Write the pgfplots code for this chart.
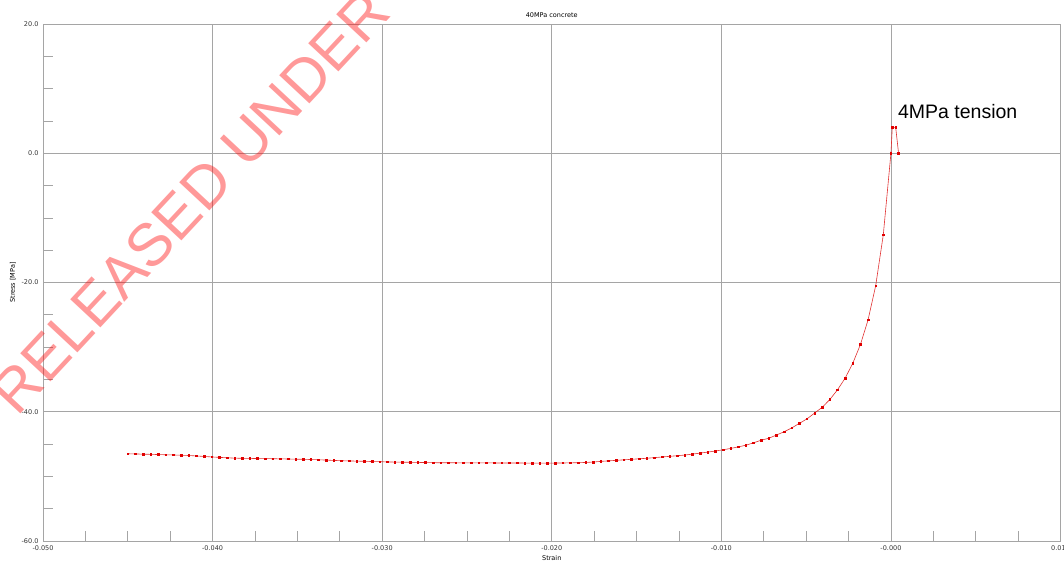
\documentclass[border=0pt]{standalone}
\usepackage{pgfplots}
\pgfplotsset{compat=1.18}
\usepackage{fontspec}
\setmainfont{DejaVu Sans}
\newfontfamily\arialfont{Liberation Sans}
\definecolor{gridgray}{RGB}{165,165,165}
\definecolor{curvered}{RGB}{225,50,50}
\definecolor{markred}{RGB}{225,0,0}
\begin{document}
\begin{tikzpicture}[x=1pt,y=1pt]
\useasboundingbox (0,0) rectangle (1064,567);
\begin{axis}[
  at={(43pt,26pt)}, anchor=south west, scale only axis,
  width=1017.6pt, height=517pt,
  xmin=-0.05, xmax=0.01, ymin=-60, ymax=20,
  xtick={-0.05,-0.04,-0.03,-0.02,-0.01,0,0.01},
  xticklabels={-0.050,-0.040,-0.030,-0.020,-0.010,-0.000,0.010},
  ytick={-60,-40,-20,0,20},
  yticklabels={-60.0,-40.0,-20.0,0.0,20.0},
  minor x tick num=3, minor y tick num=3,
  grid=major,
  major grid style={color=gridgray, line width=0.7pt},
  axis line style={gridgray, line width=0.7pt},
  tick align=inside, xtick pos=bottom, ytick pos=left,
  major tick length=0pt, minor tick length=10pt,
  minor tick style={gridgray, line width=0.7pt},
  scaled x ticks=false, scaled y ticks=false,
  ticklabel style={font=\fontsize{6.5}{7}\selectfont, text=black!80},
  xticklabel style={yshift=-1pt},
  yticklabel style={xshift=-1pt},
  title={40MPa concrete},
  title style={font=\fontsize{6.5}{7}\selectfont, yshift=-3pt},
  xlabel={Strain},
  xlabel style={font=\fontsize{6.5}{7}\selectfont, yshift=2pt},
  ylabel={Stress [MPa]},
  ylabel style={font=\fontsize{6.5}{7}\selectfont, yshift=-1pt},
  clip=false,
]
\addplot[curvered, line width=0.6pt, mark=square*, mark size=0.8pt,
  mark options={markred, solid}] coordinates {
(-0.04500,-46.50) (-0.04455,-46.53) (-0.04410,-46.56) (-0.04365,-46.59)
(-0.04320,-46.62) (-0.04275,-46.66) (-0.04230,-46.69) (-0.04185,-46.73)
(-0.04140,-46.77) (-0.04095,-46.84) (-0.04050,-46.92) (-0.04005,-46.99)
(-0.03960,-47.06) (-0.03915,-47.12) (-0.03870,-47.18) (-0.03825,-47.20)
(-0.03780,-47.22) (-0.03735,-47.24) (-0.03690,-47.25) (-0.03645,-47.27)
(-0.03600,-47.29) (-0.03555,-47.31) (-0.03510,-47.34) (-0.03465,-47.36)
(-0.03420,-47.39) (-0.03375,-47.43) (-0.03330,-47.48) (-0.03285,-47.53)
(-0.03240,-47.58) (-0.03195,-47.61) (-0.03150,-47.64) (-0.03105,-47.67)
(-0.03060,-47.70) (-0.03015,-47.73) (-0.02970,-47.76) (-0.02925,-47.79)
(-0.02880,-47.81) (-0.02835,-47.82) (-0.02790,-47.84) (-0.02745,-47.86)
(-0.02700,-47.88) (-0.02655,-47.89) (-0.02610,-47.89) (-0.02565,-47.90)
(-0.02520,-47.90) (-0.02475,-47.91) (-0.02430,-47.91) (-0.02385,-47.92)
(-0.02340,-47.92) (-0.02295,-47.93) (-0.02250,-47.93) (-0.02205,-47.93)
(-0.02160,-47.94) (-0.02115,-47.94) (-0.02070,-47.94) (-0.02025,-47.95)
(-0.01980,-47.94) (-0.01935,-47.93) (-0.01890,-47.91) (-0.01845,-47.88)
(-0.01800,-47.85) (-0.01755,-47.78) (-0.01710,-47.68) (-0.01665,-47.60)
(-0.01620,-47.52) (-0.01575,-47.44) (-0.01530,-47.36) (-0.01485,-47.28)
(-0.01440,-47.20) (-0.01395,-47.10) (-0.01350,-47.00) (-0.01305,-46.90)
(-0.01260,-46.80) (-0.01215,-46.70) (-0.01170,-46.55) (-0.01125,-46.40)
(-0.01080,-46.24) (-0.01035,-46.08) (-0.00990,-45.88) (-0.00945,-45.68)
(-0.00900,-45.43) (-0.00855,-45.18) (-0.00810,-44.80) (-0.00765,-44.40)
(-0.00720,-44.10) (-0.00675,-43.60) (-0.00630,-43.10) (-0.00585,-42.50)
(-0.00540,-41.80) (-0.00495,-41.10) (-0.00450,-40.20) (-0.00405,-39.30)
(-0.00360,-38.10) (-0.00315,-36.60) (-0.00270,-34.80) (-0.00225,-32.50)
(-0.00180,-29.60) (-0.00135,-25.80) (-0.00090,-20.50) (-0.00045,-12.60)
(0.00000,0.00) (0.00008,4.00) (0.00028,4.00) (0.00045,0.00)
};
\node[anchor=base west, inner sep=0pt, font=\arialfont\fontsize{19.5}{20}\selectfont]
  at (axis cs:0.00041,5.3) {4MPa tension};
\end{axis}
\node[rotate=47, text=red, opacity=0.4, inner sep=0pt,
  font=\arialfont\fontsize{60}{62}\selectfont] at (190,365) {RELEASED UNDER};
\end{tikzpicture}
\end{document}
